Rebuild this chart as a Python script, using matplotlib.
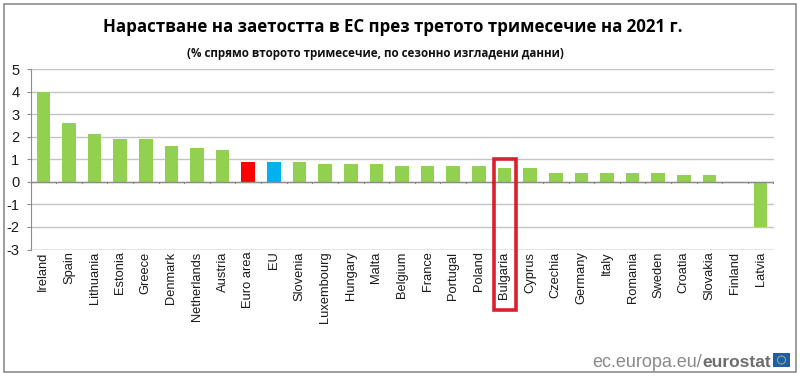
import matplotlib
matplotlib.use('Agg')
import matplotlib.pyplot as plt
from matplotlib.patches import Rectangle, Ellipse

countries = ['Ireland', 'Spain', 'Lithuania', 'Estonia', 'Greece', 'Denmark', 'Netherlands', 'Austria',
             'Euro area', 'EU', 'Slovenia', 'Luxembourg', 'Hungary', 'Malta', 'Belgium', 'France',
             'Portugal', 'Poland', 'Bulgaria', 'Cyprus', 'Czechia', 'Germany', 'Italy', 'Romania',
             'Sweden', 'Croatia', 'Slovakia', 'Finland', 'Latvia']
values = [4.0, 2.6, 2.1, 1.9, 1.9, 1.6, 1.5, 1.4, 0.9, 0.9, 0.9, 0.8, 0.8, 0.8, 0.7, 0.7,
          0.7, 0.7, 0.6, 0.6, 0.4, 0.4, 0.4, 0.4, 0.4, 0.3, 0.3, 0.0, -2.0]
yticks = [-3, -2, -1, 0, 1, 2, 3, 4, 5]
title = 'Нарастване на заетостта в ЕС през третото тримесечие на 2021 г.'
subtitle = '(% спрямо второто тримесечие, по сезонно изгладени данни)'

W, H = 800, 377
colors = []
for c in countries:
    if c == 'Euro area':
        colors.append('#ff0000')
    elif c == 'EU':
        colors.append('#00b0f0')
    else:
        colors.append('#92d050')

fig = plt.figure(figsize=(W / 100, H / 100), dpi=100)
fig.patches.append(Rectangle((3.5 / W, 1 - 372 / H), 792 / W, 368 / H, transform=fig.transFigure,
                             facecolor='white', edgecolor='#8c8c8c', linewidth=1.2, zorder=-1))

ax = fig.add_axes([30.5 / W, 1 - 249.5 / H, 743 / W, 180.5 / H])
ax.patch.set_alpha(0)
x = list(range(len(countries)))
ax.bar(x, values, width=0.53, color=colors, zorder=3)
ax.set_xlim(-0.5, len(countries) - 0.5)
ax.set_ylim(-3, 5)
ax.set_yticks(yticks)
ax.set_yticklabels([str(t) for t in yticks], fontfamily='Liberation Sans', fontsize=10.5, color='#1a1a1a')
ax.set_xticks(x)
ax.set_xticklabels(countries, rotation=90, fontfamily='Liberation Sans', fontsize=9.3, color='#1a1a1a')
ax.grid(axis='y', color='#c4c4c4', linewidth=1, zorder=0)
for s in ['top', 'right', 'bottom']:
    ax.spines[s].set_visible(False)
ax.spines['left'].set_color('#8c8c8c')
ax.axhline(-3, color='#a0a0a0', linewidth=1, zorder=1)
ax.axhline(0, color='#8c8c8c', linewidth=1, zorder=4)
ax.tick_params(axis='y', length=3, width=0.8, color='#8c8c8c', pad=5)
ax.tick_params(axis='x', length=0, pad=1.5)

# ticks between the categories sit on the zero line
for i in range(len(countries) + 1):
    ax.plot([i - 0.5, i - 0.5], [0, -0.07], color='#8c8c8c', linewidth=0.8, zorder=4, clip_on=False)

fig.text(393 / W, 1 - 27 / H, title, ha='center', va='center', fontfamily='Open Sans',
         fontweight='bold', fontsize=12.2, color='black')
fig.text(375 / W, 1 - 54 / H, subtitle, ha='center', va='center', fontfamily='Open Sans',
         fontweight='bold', fontsize=8.4, color='#111111')

# highlight around Bulgaria
fig.patches.append(Rectangle((494 / W, 1 - 310 / H), 22 / W, 151 / H, transform=fig.transFigure,
                             facecolor='none', edgecolor='#d9202c', linewidth=2.6, zorder=6))

fig.text(702 / W, 1 - 367 / H, 'ec.europa.eu/', ha='right', va='baseline', fontfamily='Liberation Sans',
         fontsize=13, color='#8a8a8a')
fig.text(771 / W, 1 - 367 / H, 'eurostat', ha='right', va='baseline', fontfamily='Liberation Sans',
         fontweight='bold', fontsize=12.5, color='#6e6e6e')
fig.patches.append(Rectangle((773 / W, 1 - 367 / H), 17 / W, 14 / H, transform=fig.transFigure,
                             facecolor='#1f5fa8', edgecolor='none'))
fig.patches.append(Ellipse((781.5 / W, 1 - 360 / H), 8 / W, 8 / H, transform=fig.transFigure,
                           facecolor='none', edgecolor='#9fb86a', linewidth=0.7, zorder=2))

fig.savefig('out.png', dpi=100, facecolor='white')
